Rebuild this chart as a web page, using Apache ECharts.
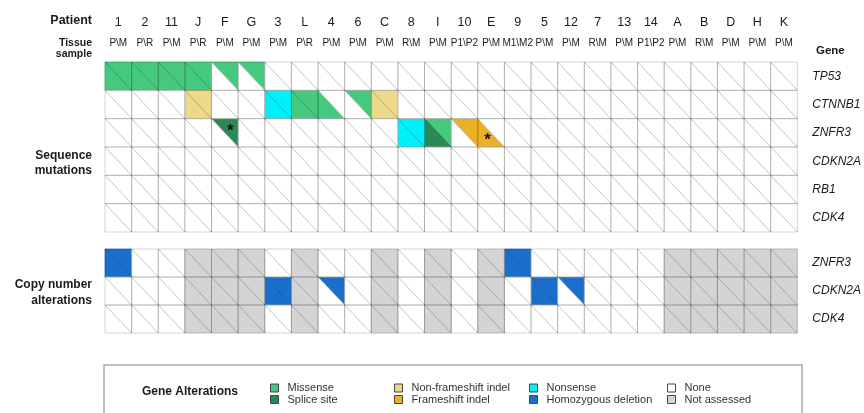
<!DOCTYPE html>
<html>
<head>
<meta charset="utf-8">
<script src="https://cdn.jsdelivr.net/npm/echarts@6/dist/echarts.min.js"></script>
<style>
  html, body { margin: 0; padding: 0; background: #fff; }
  #chart { width: 864px; height: 413px; }
</style>
</head>
<body>
<div id="chart"></div>
<script>
// Patients (columns) and the two tissue samples profiled for each (first\second)
const patients = ['1','2','11','J','F','G','3','L','4','6','C','8','I','10','E','9','5','12','7','13','14','A','B','D','H','K'];
const tissueSamples = ['P\\M','P\\R','P\\M','P\\R','P\\M','P\\M','P\\M','P\\R','P\\M','P\\M','P\\M','R\\M','P\\M','P1\\P2','P\\M','M1\\M2','P\\M','P\\M','R\\M','P\\M','P1\\P2','P\\M','R\\M','P\\M','P\\M','P\\M'];

const seqGenes = ['TP53','CTNNB1','ZNFR3','CDKN2A','RB1','CDK4'];
const cnaGenes = ['ZNFR3','CDKN2A','CDK4'];

// [patient, gene, first sample (lower-left triangle), second sample (upper-right triangle)]
const seqMutations = [
  ['1','TP53','Missense','Missense'],
  ['2','TP53','Missense','Missense'],
  ['11','TP53','Missense','Missense'],
  ['J','TP53','Missense','Missense'],
  ['F','TP53',null,'Missense'],
  ['G','TP53',null,'Missense'],
  ['J','CTNNB1','Non-frameshift indel','Non-frameshift indel'],
  ['3','CTNNB1','Nonsense','Nonsense'],
  ['L','CTNNB1','Missense','Missense'],
  ['4','CTNNB1','Missense',null],
  ['6','CTNNB1',null,'Missense'],
  ['C','CTNNB1','Non-frameshift indel','Non-frameshift indel'],
  ['F','ZNFR3',null,'Splice site'],
  ['8','ZNFR3','Nonsense','Nonsense'],
  ['I','ZNFR3','Splice site','Missense'],
  ['10','ZNFR3',null,'Frameshift indel'],
  ['E','ZNFR3','Frameshift indel',null]
];

// Mutations marked with an asterisk: [patient, gene, sample slot 0 = first, 1 = second]
const flaggedMutations = [
  ['F','ZNFR3',1],
  ['E','ZNFR3',0]
];

const cnaAlterations = [
  ['1','ZNFR3','Homozygous deletion','Homozygous deletion'],
  ['9','ZNFR3','Homozygous deletion','Homozygous deletion'],
  ['3','CDKN2A','Homozygous deletion','Homozygous deletion'],
  ['4','CDKN2A',null,'Homozygous deletion'],
  ['5','CDKN2A','Homozygous deletion','Homozygous deletion'],
  ['12','CDKN2A',null,'Homozygous deletion']
];
const cnaNotAssessed = ['J','F','G','L','C','I','E','A','B','D','H','K'];

const alterationTypes = ['Missense','Splice site','Non-frameshift indel','Frameshift indel','Nonsense','Homozygous deletion','None','Not assessed'];
const alterationColors = ['#44c97e','#2a8a55','#ecd98a','#ebb024','#00f0fa','#1a6fcd','#ffffff','#d4d4d4'];

const FONT = 'Liberation Sans, Arial, Helvetica, sans-serif';

// Build per-triangle assignments for a panel
function buildTriangles(genes, alterations, notAssessed) {
  const byType = {};
  alterationTypes.forEach(t => byType[t] = []);
  const lookup = {};
  alterations.forEach(([p, g, a, b]) => { lookup[p + '|' + g] = [a, b]; });
  patients.forEach((p, xi) => {
    genes.forEach((g, yi) => {
      const rec = lookup[p + '|' + g] || [null, null];
      for (let part = 0; part < 2; part++) {
        let t = rec[part];
        if (!t) t = notAssessed.indexOf(p) >= 0 ? 'Not assessed' : 'None';
        byType[t].push([xi, yi, part]);
      }
    });
  });
  return byType;
}

function cellBox(api) {
  const c = api.coord([api.value(0), api.value(1)]);
  const s = api.size([1, 1]);
  return { x0: c[0] - s[0] / 2, x1: c[0] + s[0] / 2, y0: c[1] - s[1] / 2, y1: c[1] + s[1] / 2 };
}

function triangleRenderer(color) {
  return function (params, api) {
    const b = cellBox(api);
    const pts = api.value(2) === 0
      ? [[b.x0, b.y0], [b.x0, b.y1], [b.x1, b.y1]]
      : [[b.x0, b.y0], [b.x1, b.y0], [b.x1, b.y1]];
    return { type: 'polygon', shape: { points: pts }, style: { fill: color, stroke: color, lineWidth: 0.6 } };
  };
}

function gridLineRenderer(params, api) {
  const b = cellBox(api);
  return {
    type: 'group',
    children: [
      { type: 'rect', shape: { x: b.x0, y: b.y0, width: b.x1 - b.x0, height: b.y1 - b.y0 },
        style: { fill: 'none', stroke: 'rgba(0,0,0,0.17)', lineWidth: 1 } },
      { type: 'line', shape: { x1: b.x0, y1: b.y0, x2: b.x1, y2: b.y1 },
        style: { stroke: 'rgba(0,0,0,0.26)', lineWidth: 0.9 } }
    ]
  };
}

function asteriskRenderer(params, api) {
  const b = cellBox(api);
  const w = b.x1 - b.x0, h = b.y1 - b.y0;
  const slot = api.value(2);
  const cx = slot === 0 ? b.x0 + w / 3 : b.x0 + 2 * w / 3;
  const cy = slot === 0 ? b.y0 + 2 * h / 3 : b.y0 + h / 3;
  return { type: 'text', x: cx + 1, y: cy + 3,
    style: { text: '*', fill: '#111', font: 'bold 17px ' + FONT, textAlign: 'center', textVerticalAlign: 'middle' } };
}

function allCells(genes) {
  const out = [];
  patients.forEach((p, xi) => genes.forEach((g, yi) => out.push([xi, yi])));
  return out;
}

const panels = [
  { genes: seqGenes, tri: buildTriangles(seqGenes, seqMutations, []), xAxisIndex: 0, yAxisIndex: 0 },
  { genes: cnaGenes, tri: buildTriangles(cnaGenes, cnaAlterations, cnaNotAssessed), xAxisIndex: 2, yAxisIndex: 1 }
];

const series = [];
panels.forEach(panel => {
  alterationTypes.forEach((t, i) => {
    series.push({
      type: 'custom', name: t, xAxisIndex: panel.xAxisIndex, yAxisIndex: panel.yAxisIndex,
      itemStyle: { color: alterationColors[i] },
      renderItem: triangleRenderer(alterationColors[i]),
      data: panel.tri[t], z: 1, silent: true, animation: false
    });
  });
  series.push({
    type: 'custom', xAxisIndex: panel.xAxisIndex, yAxisIndex: panel.yAxisIndex,
    renderItem: gridLineRenderer, data: allCells(panel.genes), z: 2, silent: true, animation: false
  });
});
series.push({
  type: 'custom', xAxisIndex: 0, yAxisIndex: 0, renderItem: asteriskRenderer,
  data: flaggedMutations.map(([p, g, s]) => [patients.indexOf(p), seqGenes.indexOf(g), s]),
  z: 3, silent: true, animation: false
});

const hiddenAxisParts = { axisLine: { show: false }, axisTick: { show: false }, splitLine: { show: false } };
const geneAxisLabel = { fontStyle: 'italic', fontSize: 12, color: '#1a1a1a', fontFamily: FONT, margin: 15 };

function legendColumn(left, items) {
  return {
    left: left, top: 382.5, orient: 'vertical', padding: 0, itemGap: 0.5,
    itemWidth: 8, itemHeight: 8, icon: 'rect', selectedMode: false,
    itemStyle: { borderColor: '#444', borderWidth: 1 },
    textStyle: { fontSize: 11, color: '#333', fontFamily: FONT, padding: [0, 0, 0, 4] },
    data: items
  };
}

const option = {
  backgroundColor: '#fff',
  animation: false,
  textStyle: { fontFamily: FONT },
  grid: [
    { left: 105, right: 62.5, top: 62, height: 170 },
    { left: 105, right: 62.5, top: 249, height: 84 }
  ],
  xAxis: [
    Object.assign({ type: 'category', gridIndex: 0, position: 'top', data: patients,
      axisLabel: { fontSize: 12.5, color: '#1a1a1a', margin: 33, interval: 0 } }, hiddenAxisParts),
    Object.assign({ type: 'category', gridIndex: 0, position: 'top', data: tissueSamples,
      axisLabel: { fontSize: 10, color: '#1a1a1a', margin: 14, interval: 0 } }, hiddenAxisParts),
    Object.assign({ type: 'category', gridIndex: 1, data: patients, axisLabel: { show: false } }, hiddenAxisParts)
  ],
  yAxis: [
    Object.assign({ type: 'category', gridIndex: 0, position: 'right', inverse: true, data: seqGenes,
      axisLabel: geneAxisLabel }, hiddenAxisParts),
    Object.assign({ type: 'category', gridIndex: 1, position: 'right', inverse: true, data: cnaGenes,
      axisLabel: geneAxisLabel }, hiddenAxisParts)
  ],
  legend: [
    legendColumn(270, ['Missense', 'Splice site']),
    legendColumn(394, ['Non-frameshift indel', 'Frameshift indel']),
    legendColumn(529, ['Nonsense', 'Homozygous deletion']),
    legendColumn(667, ['None', 'Not assessed'])
  ],
  graphic: [
    { type: 'text', x: 92, y: 21, style: { text: 'Patient', font: 'bold 12.5px ' + FONT, fill: '#1a1a1a', textAlign: 'right', textVerticalAlign: 'middle' } },
    { type: 'text', x: 92, y: 48.5, style: { text: 'Tissue\nsample', font: 'bold 10.5px ' + FONT, fill: '#1a1a1a', textAlign: 'right', textVerticalAlign: 'middle', lineHeight: 10.5 } },
    { type: 'text', x: 816, y: 51, style: { text: 'Gene', font: 'bold 11.5px ' + FONT, fill: '#1a1a1a', textVerticalAlign: 'middle' } },
    { type: 'text', x: 92, y: 163, style: { text: 'Sequence\nmutations', font: 'bold 12px ' + FONT, fill: '#1a1a1a', textAlign: 'right', textVerticalAlign: 'middle', lineHeight: 15 } },
    { type: 'text', x: 92, y: 292.5, style: { text: 'Copy number\nalterations', font: 'bold 12px ' + FONT, fill: '#1a1a1a', textAlign: 'right', textVerticalAlign: 'middle', lineHeight: 16 } },
    { type: 'rect', shape: { x: 104, y: 365, width: 698, height: 70 }, style: { fill: 'none', stroke: '#aaa', lineWidth: 1.5 } },
    { type: 'text', x: 142, y: 391.5, style: { text: 'Gene Alterations', font: 'bold 12px ' + FONT, fill: '#1a1a1a', textVerticalAlign: 'middle' } }
  ],
  series: series
};

const chart = echarts.init(document.getElementById('chart'), null, { renderer: 'canvas' });
chart.setOption(option);
</script>
</body>
</html>
